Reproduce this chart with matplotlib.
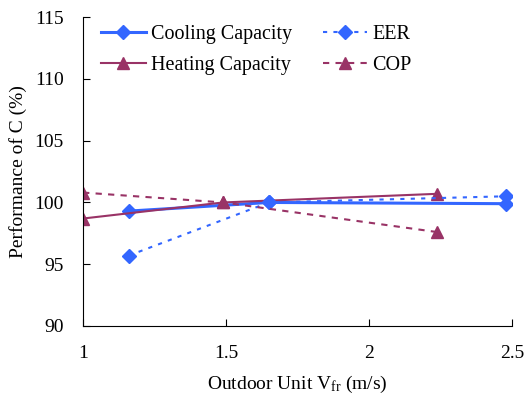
import matplotlib
matplotlib.use("Agg")
import matplotlib.pyplot as plt

plt.rcParams['font.family'] = ['Liberation Serif', 'DejaVu Serif']
plt.rcParams['mathtext.fontset'] = 'custom'
plt.rcParams['mathtext.rm'] = 'Liberation Serif'
plt.rcParams['mathtext.it'] = 'Liberation Serif:italic'

cool_x = [1.16, 1.65, 2.48]
cool_y = [99.3, 100.0, 99.9]
eer_y = [95.7, 100.0, 100.5]
heat_x = [1.0, 1.49, 2.24]
heat_y = [98.7, 100.0, 100.7]
cop_y = [100.8, 100.0, 97.6]

blue = '#3366ff'
maroon = '#993366'

fig = plt.figure(figsize=(5.26, 3.99), dpi=100)
ax = fig.add_axes([0.158, 0.183, 0.815, 0.774])

ax.plot(cool_x, cool_y, color=blue, lw=2.2, marker='D', ms=7, label='Cooling Capacity')
ax.plot(heat_x, heat_y, color=maroon, lw=1.5, marker='^', ms=9, label='Heating Capacity')
ax.plot(cool_x, eer_y, color=blue, lw=1.5, ls=(0, (2, 3)), marker='D', ms=7, label='EER')
ax.plot(heat_x, cop_y, color=maroon, lw=1.5, ls=(0, (3, 3)), marker='^', ms=9, label='COP')

ax.set_xlim(1, 2.5)
ax.set_ylim(90, 115)
ax.set_xticks([1, 1.5, 2, 2.5])
ax.set_xticklabels(['1', '1.5', '2', '2.5'])
ax.set_yticks([90, 95, 100, 105, 110, 115])
for s in ['top', 'right']:
    ax.spines[s].set_visible(False)
ax.tick_params(direction='in', labelsize=14, length=5, pad=14)
ax.set_xlabel(r'Outdoor Unit V$_{\rm fr}$ (m/s)', fontsize=14, labelpad=8)
ax.set_ylabel('Performance of C (%)', fontsize=14, labelpad=5)

h, l = ax.get_legend_handles_labels()
ax.legend(h, l, ncol=2, loc='upper left', frameon=False, fontsize=14.5,
          handlelength=2.2, handletextpad=0.25, columnspacing=1.55,
          labelspacing=0.6, bbox_to_anchor=(0.0, 1.035))

fig.savefig('out.png', dpi=100)
